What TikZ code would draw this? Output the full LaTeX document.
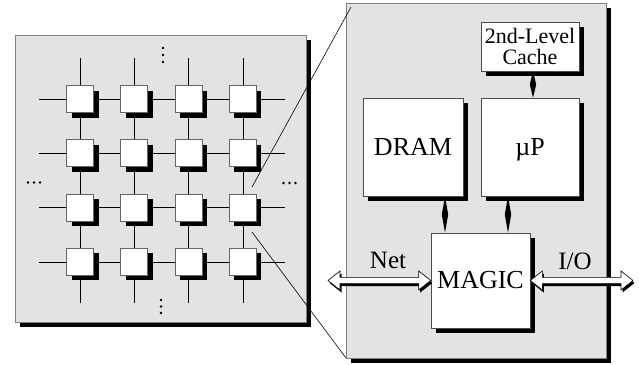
\documentclass[tikz,border=0pt]{standalone}
\usepackage{fontspec}
\setmainfont{Liberation Serif}
\usetikzlibrary{shadows,calc}
\newcommand\twotip[2]{\fill (#1) -- ($(#1)!.5!(#2)+(3.2,0)$) -- (#2) -- ($(#1)!.5!(#2)+(-3.2,0)$) -- cycle;}
\newcommand\fatarrow[2]{%
 \path[fill=black] let \p1=(#1), \p2=(#2), \p3=(1.5pt,-2.5pt) in
  (\x1+\x3,\y1+\y3) -- (\x1+\x3+12pt,\y1+\y3+9.5pt) -- (\x1+\x3+12pt,\y1+\y3+3.2pt) --
  (\x2+\x3-12pt,\y1+\y3+3.2pt) -- (\x2+\x3-12pt,\y1+\y3+9.5pt) -- (\x2+\x3,\y1+\y3) --
  (\x2+\x3-12pt,\y1+\y3-9.5pt) -- (\x2+\x3-12pt,\y1+\y3-3.2pt) -- (\x1+\x3+12pt,\y1+\y3-3.2pt) --
  (\x1+\x3+12pt,\y1+\y3-9.5pt) -- cycle;
 \path[fill=white,draw=black,line width=0.6pt,line join=miter] let \p1=(#1), \p2=(#2) in
  (\x1,\y1) -- (\x1+12pt,\y1+9.5pt) -- (\x1+12pt,\y1+3.2pt) --
  (\x2-12pt,\y1+3.2pt) -- (\x2-12pt,\y1+9.5pt) -- (\x2,\y1) --
  (\x2-12pt,\y1-9.5pt) -- (\x2-12pt,\y1-3.2pt) -- (\x1+12pt,\y1-3.2pt) --
  (\x1+12pt,\y1-9.5pt) -- cycle;}
\begin{document}
\begin{tikzpicture}[x=1pt,y=-1pt,
  shad/.style={drop shadow={shadow xshift=5pt,shadow yshift=-5pt,fill=black,opacity=1}},
  panel/.style={draw=black!50,fill=black!11,line width=0.6pt,inner sep=0pt,shad},
  cell/.style={draw=black!60,fill=white,line width=0.8pt,minimum size=27pt,inner sep=0pt,shad},
  unit/.style={draw=black!70,fill=white,line width=0.6pt,inner sep=0pt,shad,
    font=\fontsize{26}{26}\selectfont},
  wire/.style={line width=0.8pt},
  zoomline/.style={line width=0.6pt},
  dot/.style={circle,fill=black,inner sep=0pt,minimum size=2.8pt},
  lab/.style={inner sep=0pt,font=\fontsize{25}{25}\selectfont}]
\useasboundingbox (0,0) rectangle (639,364);

% left panel
\node[panel,minimum width=291pt,minimum height=287pt] (lp) at (160.5,178.5) {};

% wire free ends
\foreach \i in {1,...,4}{
  \coordinate (wl\i) at (39,{99+54.3*(\i-1)});
  \coordinate (wr\i) at (285,{99+54.3*(\i-1)});
  \coordinate (wt\i) at ({80+54.3*(\i-1)},58);
  \coordinate (wb\i) at ({80+54.3*(\i-1)},303);
}
% cells
\foreach \i in {1,...,4}{
  \foreach \j in {1,...,4}{
    \node[cell] (n\i\j) at ({80+54.3*(\j-1)},{99+54.3*(\i-1)}) {};
  }
}
% wires
\foreach \i in {1,...,4}{
  \draw[wire] (wl\i) -- (n\i1);
  \draw[wire] (n\i4) -- (wr\i);
  \draw[wire] (wt\i) -- (n1\i);
  \draw[wire] (n4\i) -- (wb\i);
  \foreach \j/\k in {1/2,2/3,3/4}{
    \draw[wire] (n\i\j) -- (n\i\k);
    \draw[wire] (n\j\i) -- (n\k\i);
  }
}
% ellipsis dots
\node[dot] (dt1) at (163,48) {};
\node[dot] (dt2) at (163,55) {};
\node[dot] (dt3) at (163,62) {};
\node[dot] (db1) at (161,300) {};
\node[dot] (db2) at (161,306.5) {};
\node[dot] (db3) at (161,313) {};
\node[dot] (dl1) at (28,182.5) {};
\node[dot] (dl2) at (34,182.5) {};
\node[dot] (dl3) at (40,182.5) {};
\node[dot] (dr1) at (283.5,183) {};
\node[dot] (dr2) at (289.5,183) {};
\node[dot] (dr3) at (295.5,183) {};

% right panel
\node[panel,minimum width=260pt,minimum height=355pt] (rp) at (476,180.5) {};

% zoom lines
\coordinate (z1a) at (252,187);
\coordinate (z1b) at (351,7);
\coordinate (z2a) at (252,232);
\coordinate (z2b) at (346,358);
\draw[zoomline] (z1a) -- (z1b);
\draw[zoomline] (z2a) -- (z2b);

% units
\node[unit,minimum width=98pt,minimum height=49pt,align=center,
  font=\fontsize{22}{21}\selectfont] (cache) at (530,46.5) {2nd-Level\\Cache};
\node[unit,minimum width=100pt,minimum height=98pt] (dram) at (413,147) {DRAM};
\node[unit,minimum width=98pt,minimum height=98pt,text depth=0pt] (up) at (530,147) {µP};
\node[unit,minimum width=99pt,minimum height=95pt] (magic) at (480.5,280.5) {MAGIC};

% bus connectors
\coordinate (k1) at ($(cache.south)+(3,0)$);
\coordinate (k2) at (k1 |- up.north);
\coordinate (d1) at ($(dram.south)+(32,0)$);
\coordinate (d2) at (d1 |- magic.north);
\coordinate (u1) at ($(up.south)+(-22,0)$);
\coordinate (u2) at (u1 |- magic.north);
\twotip{k1}{k2}
\twotip{d1}{d2}
\twotip{u1}{u2}

% Net and I/O
\coordinate (netl) at (328,280.5);
\coordinate (ior) at (633,280.5);
\fatarrow{netl}{magic.west}
\fatarrow{magic.east}{ior}
\node[lab] (netlab) at (388,260) {Net};
\node[lab] (iolab) at (575,261.5) {I/O};
\end{tikzpicture}
\end{document}
